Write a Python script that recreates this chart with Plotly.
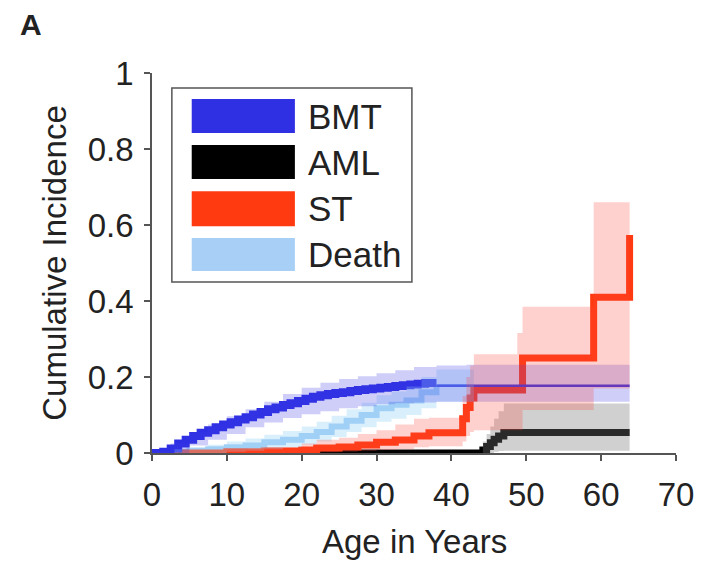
import plotly.graph_objects as go

# ---------------- data ----------------
bmt_x = [0, 1.5, 2.5, 3.5, 4.5, 5.5, 6.5, 7.5, 8.5, 9.5, 10.5, 11.5, 12.5, 13.5, 14.5, 15.5,
         16.5, 17.5, 18.5, 19.5, 20.5, 21.5, 22.5, 23.5, 24.5, 25.5, 26.5, 27.5, 28.5, 29.5,
         30.5, 31.5, 32.5, 33.5, 34.5, 35.5, 36.5, 37.5, 38.0]
bmt_y = [0, 0.003, 0.012, 0.025, 0.035, 0.045, 0.053, 0.060, 0.068, 0.075, 0.081, 0.088, 0.094,
         0.101, 0.108, 0.115, 0.120, 0.126, 0.131, 0.137, 0.143, 0.148, 0.152, 0.155, 0.158,
         0.160, 0.163, 0.166, 0.168, 0.170, 0.172, 0.174, 0.176, 0.178, 0.180, 0.182, 0.184,
         0.184, 0.184]
bmt_tail_x = [38.0, 63.8]
bmt_tail_y = [0.177, 0.177]
bmt_band_x = [0, 2.5, 5, 7.5, 10, 12.5, 15, 17.5, 20, 22.5, 25, 27.5, 30, 32.5, 35, 38, 42, 63.8]
bmt_lo = [0, 0, 0.020, 0.035, 0.050, 0.068, 0.080, 0.092, 0.102, 0.110, 0.118, 0.123, 0.128,
          0.131, 0.133, 0.135, 0.135, 0.135]
bmt_hi = [0.005, 0.025, 0.055, 0.075, 0.097, 0.115, 0.135, 0.155, 0.172, 0.185, 0.195, 0.202,
          0.210, 0.218, 0.226, 0.230, 0.232, 0.232]

death_x = [0, 3, 5, 7.5, 10, 12.5, 15, 17.5, 20, 22, 24, 26, 28, 30, 32, 34, 36, 38]
death_y = [0, 0.003, 0.006, 0.010, 0.015, 0.020, 0.028, 0.035, 0.045, 0.055, 0.070, 0.085,
           0.100, 0.118, 0.127, 0.138, 0.160, 0.178]
death_tail_x = [38, 43]
death_tail_y = [0.178, 0.178]
death_band_x = [0, 3, 5, 7.5, 10, 12.5, 15, 17.5, 20, 22, 24, 26, 28, 30, 32, 34, 36, 38, 43]
death_lo = [0, 0, 0, 0, 0.003, 0.006, 0.010, 0.015, 0.022, 0.030, 0.042, 0.055, 0.068, 0.082,
            0.090, 0.100, 0.118, 0.135, 0.135]
death_hi = [0, 0.010, 0.015, 0.022, 0.030, 0.038, 0.048, 0.058, 0.070, 0.082, 0.098, 0.115,
            0.132, 0.152, 0.162, 0.175, 0.200, 0.220, 0.220]

st_x = [0, 10, 15, 20, 22, 25, 27.5, 30, 32.5, 35, 37, 41.5, 42, 42.5, 43, 48.8, 49.5, 59, 63.8]
st_y = [0, 0.003, 0.005, 0.008, 0.013, 0.016, 0.021, 0.028, 0.034, 0.045, 0.053, 0.090, 0.120,
        0.145, 0.166, 0.166, 0.250, 0.410, 0.574]
st_lo = [0, 0, 0, 0, 0.002, 0.003, 0.005, 0.008, 0.010, 0.015, 0.018, 0.030, 0.045, 0.055,
         0.060, 0.060, 0.113, 0.170, 0.170]
st_hi = [0, 0.010, 0.015, 0.025, 0.035, 0.040, 0.050, 0.060, 0.075, 0.090, 0.093, 0.150, 0.200,
         0.230, 0.260, 0.316, 0.385, 0.660, 0.660]

aml_x = [0, 44.2, 44.7, 45.2, 45.7, 46.3, 47.0, 63.8]
aml_y = [0, 0.008, 0.017, 0.027, 0.036, 0.045, 0.054, 0.054]
aml_lo = [0, 0, 0, 0, 0.003, 0.005, 0.006, 0.006]
aml_hi = [0, 0.030, 0.050, 0.070, 0.090, 0.110, 0.130, 0.130]

series_names = ["BMT", "AML", "ST", "Death"]
x_ticks = [0, 10, 20, 30, 40, 50, 60, 70]
y_ticks = [0, 0.2, 0.4, 0.6, 0.8, 1]
y_tick_labels = ["0", "0.2", "0.4", "0.6", "0.8", "1"]

# ---------------- styles ----------------
C_BMT = "#2f2fe4"
C_AML = "#000000"
C_ST = "#ff3a10"
C_DEATH = "#a8d0f6"
F_BMT = "rgba(60,60,230,0.25)"
F_AML = "rgba(120,120,120,0.35)"
F_ST = "rgba(255,70,60,0.25)"
F_DEATH = "rgba(150,210,245,0.35)"
FONT = "Liberation Sans, Arial, sans-serif"

fig = go.Figure()


def line(x, y, color, width):
    fig.add_trace(go.Scatter(x=x, y=y, mode="lines", line=dict(color=color, width=width, shape="hv"),
                             showlegend=False, hoverinfo="skip"))


def band(x, lo, hi, fill):
    fig.add_trace(go.Scatter(x=x, y=lo, mode="lines", line=dict(width=0, shape="hv"),
                             showlegend=False, hoverinfo="skip"))
    fig.add_trace(go.Scatter(x=x, y=hi, mode="lines", line=dict(width=0, shape="hv"),
                             fill="tonexty", fillcolor=fill, showlegend=False, hoverinfo="skip"))


# lines first
line(aml_x, aml_y, C_AML, 7)
line(death_x, death_y, C_DEATH, 6)
line(death_tail_x, death_tail_y, C_DEATH, 2.5)
line(st_x, st_y, C_ST, 7)
line(bmt_x, bmt_y, C_BMT, 8)
line(bmt_tail_x, bmt_tail_y, C_BMT, 2.5)

# bands on top
band(death_band_x, death_lo, death_hi, F_DEATH)
band(aml_x, aml_lo, aml_hi, F_AML)
band(bmt_band_x, bmt_lo, bmt_hi, F_BMT)
band(st_x, st_lo, st_hi, F_ST)

axis_common = dict(showline=True, linecolor="#555555", linewidth=1.5, ticks="outside",
                   ticklen=6, tickwidth=1.5, tickcolor="#555555", showgrid=False, zeroline=False,
                   tickfont=dict(family=FONT, size=33, color="#222222"))

fig.update_layout(
    width=706, height=563,
    margin=dict(l=152, r=24, t=73, b=110),
    paper_bgcolor="white", plot_bgcolor="white",
    xaxis=dict(range=[0, 70], tickvals=x_ticks, ticklabelstandoff=6, **axis_common),
    yaxis=dict(range=[0, 1], tickvals=y_ticks, ticktext=y_tick_labels, ticklabelstandoff=4,
               **axis_common),
    showlegend=False,
)

# custom legend (paper coords)
shapes = [dict(type="rect", xref="paper", yref="paper", x0=0.0379, x1=0.496, y0=0.45, y1=0.9605,
               line=dict(color="#555555", width=1.5), fillcolor="white", layer="above")]
swatch_colors = [C_BMT, C_AML, C_ST, C_DEATH]
swatch_y = [(0.842, 0.9316), (0.721, 0.8105), (0.597, 0.689), (0.479, 0.566)]
for col, (y0, y1) in zip(swatch_colors, swatch_y):
    shapes.append(dict(type="rect", xref="paper", yref="paper", x0=0.0758, x1=0.2727, y0=y0, y1=y1,
                       line=dict(width=0), fillcolor=col, layer="above"))
fig.update_layout(shapes=shapes)

annotations = []
for name, (y0, y1) in zip(series_names, swatch_y):
    annotations.append(dict(text=name, xref="paper", yref="paper", x=0.2936, y=(y0 + y1) / 2,
                            xanchor="left", yanchor="middle", showarrow=False,
                            font=dict(family=FONT, size=35, color="#222222")))
annotations.append(dict(text="Cumulative Incidence", xref="paper", yref="paper", x=-0.1875, y=0.5,
                        textangle=-90, xanchor="center", yanchor="middle", showarrow=False,
                        font=dict(family=FONT, size=33, color="#222222")))
annotations.append(dict(text="Age in Years", xref="paper", yref="paper", x=0.5, y=-0.232,
                        xanchor="center", yanchor="middle", showarrow=False,
                        font=dict(family=FONT, size=33, color="#222222")))
annotations.append(dict(text="<b>A</b>", xref="paper", yref="paper", x=-0.23, y=1.128,
                        xanchor="center", yanchor="middle", showarrow=False,
                        font=dict(family=FONT, size=30, color="#222222")))
annotations.append(dict(text="<b>B</b>", xref="paper", yref="paper", x=-0.23, y=-0.33,
                        xanchor="center", yanchor="middle", showarrow=False,
                        font=dict(family=FONT, size=30, color="#222222")))
fig.update_layout(annotations=annotations)

fig.write_html("out.html", config={"displayModeBar": False},
               post_script="document.body.style.margin='0';")
